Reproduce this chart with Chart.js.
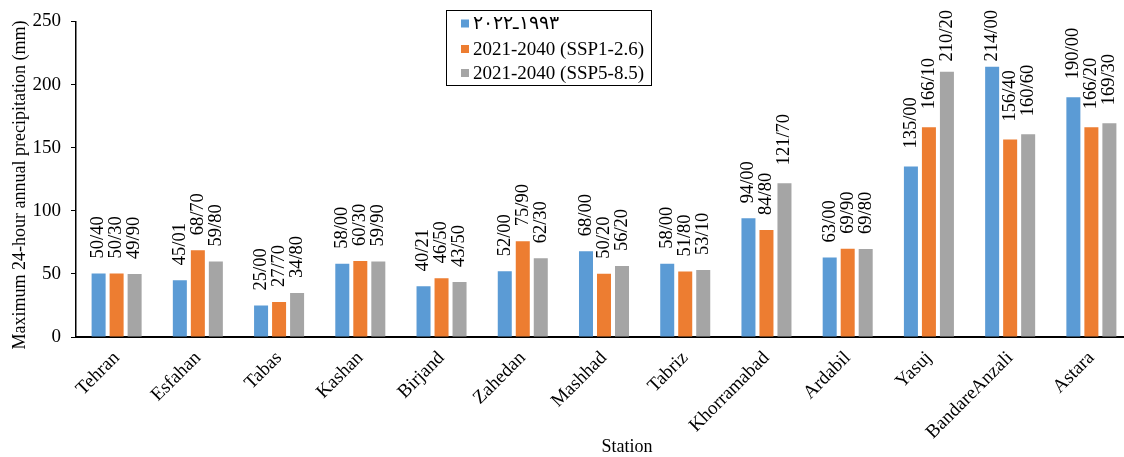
<!DOCTYPE html>
<html>
<head>
<meta charset="utf-8">
<script src="https://cdn.jsdelivr.net/npm/chart.js@4.4.1/dist/chart.umd.min.js"></script>
<style>
  html, body { margin: 0; padding: 0; background: #fff; overflow: hidden; }
  #wrap { position: relative; width: 1140px; height: 457px; }
</style>
</head>
<body>
<div id="wrap"><canvas id="c" width="1140" height="457"></canvas></div>
<script>
// Stations and maximum 24-hour precipitation (mm)
const stations = ['Tehran', 'Esfahan', 'Tabas', 'Kashan', 'Birjand', 'Zahedan', 'Mashhad',
  'Tabriz', 'Khorramabad', 'Ardabil', 'Yasuj', 'BandareAnzali', 'Astara'];

const observed = [50.40, 45.01, 25.00, 58.00, 40.21, 52.00, 68.00, 58.00, 94.00, 63.00, 135.00, 214.00, 190.00];
const ssp126   = [50.30, 68.70, 27.70, 60.30, 46.50, 75.90, 50.20, 51.80, 84.80, 69.90, 166.10, 156.40, 166.20];
const ssp585   = [49.90, 59.80, 34.80, 59.90, 43.50, 62.30, 56.20, 53.10, 121.70, 69.80, 210.20, 160.60, 169.30];

const seriesNames = ['\u0661\u0669\u0669\u0663\u0640\u0662\u0660\u0662\u0662', '2021-2040 (SSP1-2.6)', '2021-2040 (SSP5-8.5)'];
const yTicks = [0, 50, 100, 150, 200, 250];

const yTitle = 'Maximum 24-hour annual precipitation (mm)';
const xTitle = 'Station';

const colors = ['#5B9BD5', '#ED7D31', '#A5A5A5'];
const serif = '"Liberation Serif", "Times New Roman", "DejaVu Serif", serif';

// Values are written with "/" as the decimal mark
const fmt = v => v.toFixed(2).replace('.', '/');

// Vertical value labels above each bar, kept inside the top edge
const valueLabels = {
  id: 'valueLabels',
  afterDatasetsDraw(chart) {
    const ctx = chart.ctx;
    ctx.save();
    ctx.fillStyle = '#000';
    ctx.font = '18.5px ' + serif;
    ctx.textAlign = 'left';
    ctx.textBaseline = 'middle';
    chart.data.datasets.forEach((ds, di) => {
      chart.getDatasetMeta(di).data.forEach((bar, i) => {
        const text = fmt(ds.data[i]);
        const w = ctx.measureText(text).width;
        const gap = ds.data[i] >= 100 ? 18 : 15;
        let start = bar.y - gap;
        if (start - w < 10) start = 10 + w;
        ctx.save();
        ctx.translate(bar.x, start);
        ctx.rotate(-Math.PI / 2);
        ctx.fillText(text, 0, 0);
        ctx.restore();
      });
    });
    ctx.restore();
  }
};

const boxedLegend = {
  id: 'boxedLegend',
  afterDraw(chart) {
    const ctx = chart.ctx;
    ctx.save();
    ctx.strokeStyle = '#000';
    ctx.lineWidth = 1;
    ctx.strokeRect(446.5, 10.5, 205, 75);
    ctx.font = '19px ' + serif;
    ctx.textBaseline = 'middle';
    ctx.textAlign = 'left';
    const rows = [23.5, 49, 73];
    chart.data.datasets.forEach((ds, i) => {
      ctx.fillStyle = ds.backgroundColor;
      ctx.fillRect(461, rows[i] - 4, 8, 8);
      ctx.fillStyle = '#000';
      ctx.fillText(ds.label, 473, rows[i] + 1);
    });
    ctx.restore();
  }
};

const axisTitles = {
  id: 'axisTitles',
  afterDraw(chart) {
    const ctx = chart.ctx;
    ctx.save();
    ctx.fillStyle = '#000';
    ctx.font = '18px ' + serif;
    ctx.textAlign = 'center';
    ctx.textBaseline = 'middle';
    ctx.fillText(xTitle, 627, 447);
    ctx.translate(20, 185);
    ctx.rotate(-Math.PI / 2);
    ctx.fillText(yTitle, 0, 0);
    ctx.restore();
  }
};

new Chart(document.getElementById('c'), {
  type: 'bar',
  data: {
    labels: stations,
    datasets: [
      { label: seriesNames[0], data: observed, backgroundColor: colors[0] },
      { label: seriesNames[1], data: ssp126, backgroundColor: colors[1] },
      { label: seriesNames[2], data: ssp585, backgroundColor: colors[2] }
    ]
  },
  options: {
    responsive: false,
    animation: false,
    devicePixelRatio: 1,
    layout: { padding: { top: 18, right: 8, left: 0, bottom: 0 } },
    datasets: { bar: { categoryPercentage: 0.665, barPercentage: 0.778, borderWidth: 0 } },
    plugins: { legend: { display: false }, tooltip: { enabled: false } },
    scales: {
      x: {
        grid: { display: false },
        border: { display: true, color: '#000', width: 2 },
        ticks: {
          color: '#000', font: { family: serif, size: 19 },
          minRotation: 45, maxRotation: 45, padding: 2, autoSkip: false
        },
        afterFit(s) { s.height = 120; }
      },
      y: {
        min: 0, max: 250,
        grid: { drawOnChartArea: false, drawTicks: true, tickLength: 5, color: '#000' },
        border: { display: true, color: '#000', width: 1.5 },
        afterBuildTicks(s) { s.ticks = yTicks.map(v => ({ value: v })); },
        ticks: { color: '#000', font: { family: serif, size: 19 }, padding: 10 },
        afterFit(s) { s.width = 76; }
      }
    }
  },
  plugins: [valueLabels, boxedLegend, axisTitles]
});
</script>
</body>
</html>
